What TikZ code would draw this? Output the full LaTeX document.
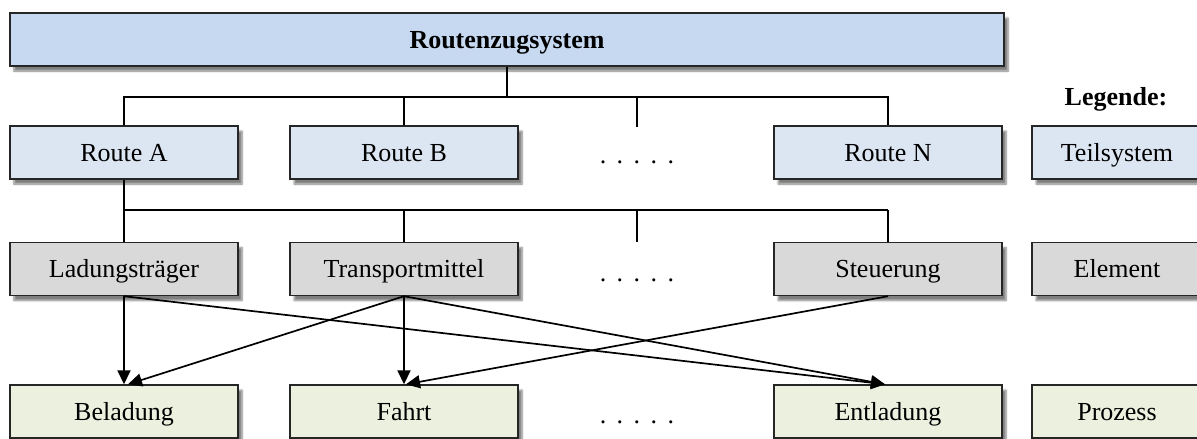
\documentclass[tikz,border=0pt]{standalone}
\usepackage{fontspec}
\setmainfont{Liberation Serif}
\usetikzlibrary{arrows.meta,shadows.blur}
\definecolor{topblue}{HTML}{C6D9F1}
\definecolor{subblue}{HTML}{DCE6F2}
\definecolor{elgray}{HTML}{D9D9D9}
\definecolor{procgreen}{HTML}{EBF1DE}
\begin{document}
\begin{tikzpicture}[x=1pt,y=-1pt,
  box/.style={draw=black!85, line width=1.4pt, minimum height=53pt, minimum width=228pt,
    inner sep=0pt, text height=17pt, text depth=0pt, font=\fontsize{26}{30}\selectfont,
    blur shadow={shadow xshift=4pt, shadow yshift=-5pt, shadow blur steps=6, shadow opacity=50}},
  topbox/.style={box, fill=topblue, minimum width=994pt, font=\fontsize{26}{30}\selectfont\bfseries},
  subbox/.style={box, fill=subblue},
  elbox/.style={box, fill=elgray},
  procbox/.style={box, fill=procgreen},
  legbox/.style={minimum width=170pt},
  dotsnode/.style={inner sep=0pt, font=\fontsize{26}{30}\selectfont},
  tree/.style={line width=1.3pt, black},
  treeb/.style={line width=2pt, black},
  arr/.style={line width=1.7pt, black, -{Triangle[length=14pt,width=13pt]}},
  legtitle/.style={font=\fontsize{26}{30}\selectfont\bfseries, inner sep=0pt}
]
\useasboundingbox (0,0) rectangle (1197,439);

% top
\node[topbox] (top) at (507,39.5) {Routenzugsystem};

% routes
\node[subbox] (rA) at (124,152.5) {Route A};
\node[subbox] (rB) at (404,152.5) {Route B};
\node[subbox] (rN) at (888,152.5) {Route N};
\node[dotsnode] (d1) at (637,162) {.\hskip10.5pt.\hskip10.5pt.\hskip10.5pt.\hskip10.5pt.};

% elements
\node[elbox] (eL) at (124,269) {Ladungsträger};
\node[elbox] (eT) at (404,269) {Transportmittel};
\node[elbox] (eS) at (888,269) {Steuerung};
\node[dotsnode] (d2) at (637,280) {.\hskip10.5pt.\hskip10.5pt.\hskip10.5pt.\hskip10.5pt.};

% processes
\node[procbox] (pB) at (124,411.5) {Beladung};
\node[procbox] (pF) at (404,411.5) {Fahrt};
\node[procbox] (pE) at (888,411.5) {Entladung};
\node[dotsnode] (d3) at (637,422) {.\hskip10.5pt.\hskip10.5pt.\hskip10.5pt.\hskip10.5pt.};

% legend
\node[legtitle] (leg) at (1116,99) {Legende:};
\node[subbox, legbox] (lT) at (1117,152.5) {Teilsystem};
\node[elbox, legbox] (lE) at (1117,269) {Element};
\node[procbox, legbox] (lP) at (1117,411.5) {Prozess};

% first tree
\coordinate (j1) at (507,97);
\coordinate (s1) at (637,97);
\coordinate (s1e) at (637,127);
\draw[tree] (top.south) -- (j1);
\draw[tree] (rA.north) |- (j1);
\draw[tree] (rN.north) |- (j1);
\draw[tree] (rB.north) -- (rB.north |- j1);
\draw[tree] (s1) -- (s1e);

% second tree
\coordinate (j2) at (124,210);
\coordinate (s2) at (637,210);
\coordinate (s2e) at (637,242);
\draw[treeb] (rA.south) -- (j2);
\draw[treeb] (j2) -- (j2 -| eS.north);
\draw[tree] (eL.north) -- (j2);
\draw[tree] (eT.north) -- (eT.north |- j2);
\draw[tree] (eS.north) -- (eS.north |- j2);
\draw[treeb] (s2) -- (s2e);

% arrows
\draw[arr] (eL.south) -- (pB.north);
\draw[arr] (eL.south) -- ([xshift=-3pt]pE.north);
\draw[arr] (eT.south) -- ([xshift=4pt]pB.north);
\draw[arr] (eT.south) -- (pF.north);
\draw[arr] (eT.south) -- ([xshift=-3pt]pE.north);
\draw[arr] (eS.south) -- ([xshift=2pt]pF.north);
\end{tikzpicture}
\end{document}
